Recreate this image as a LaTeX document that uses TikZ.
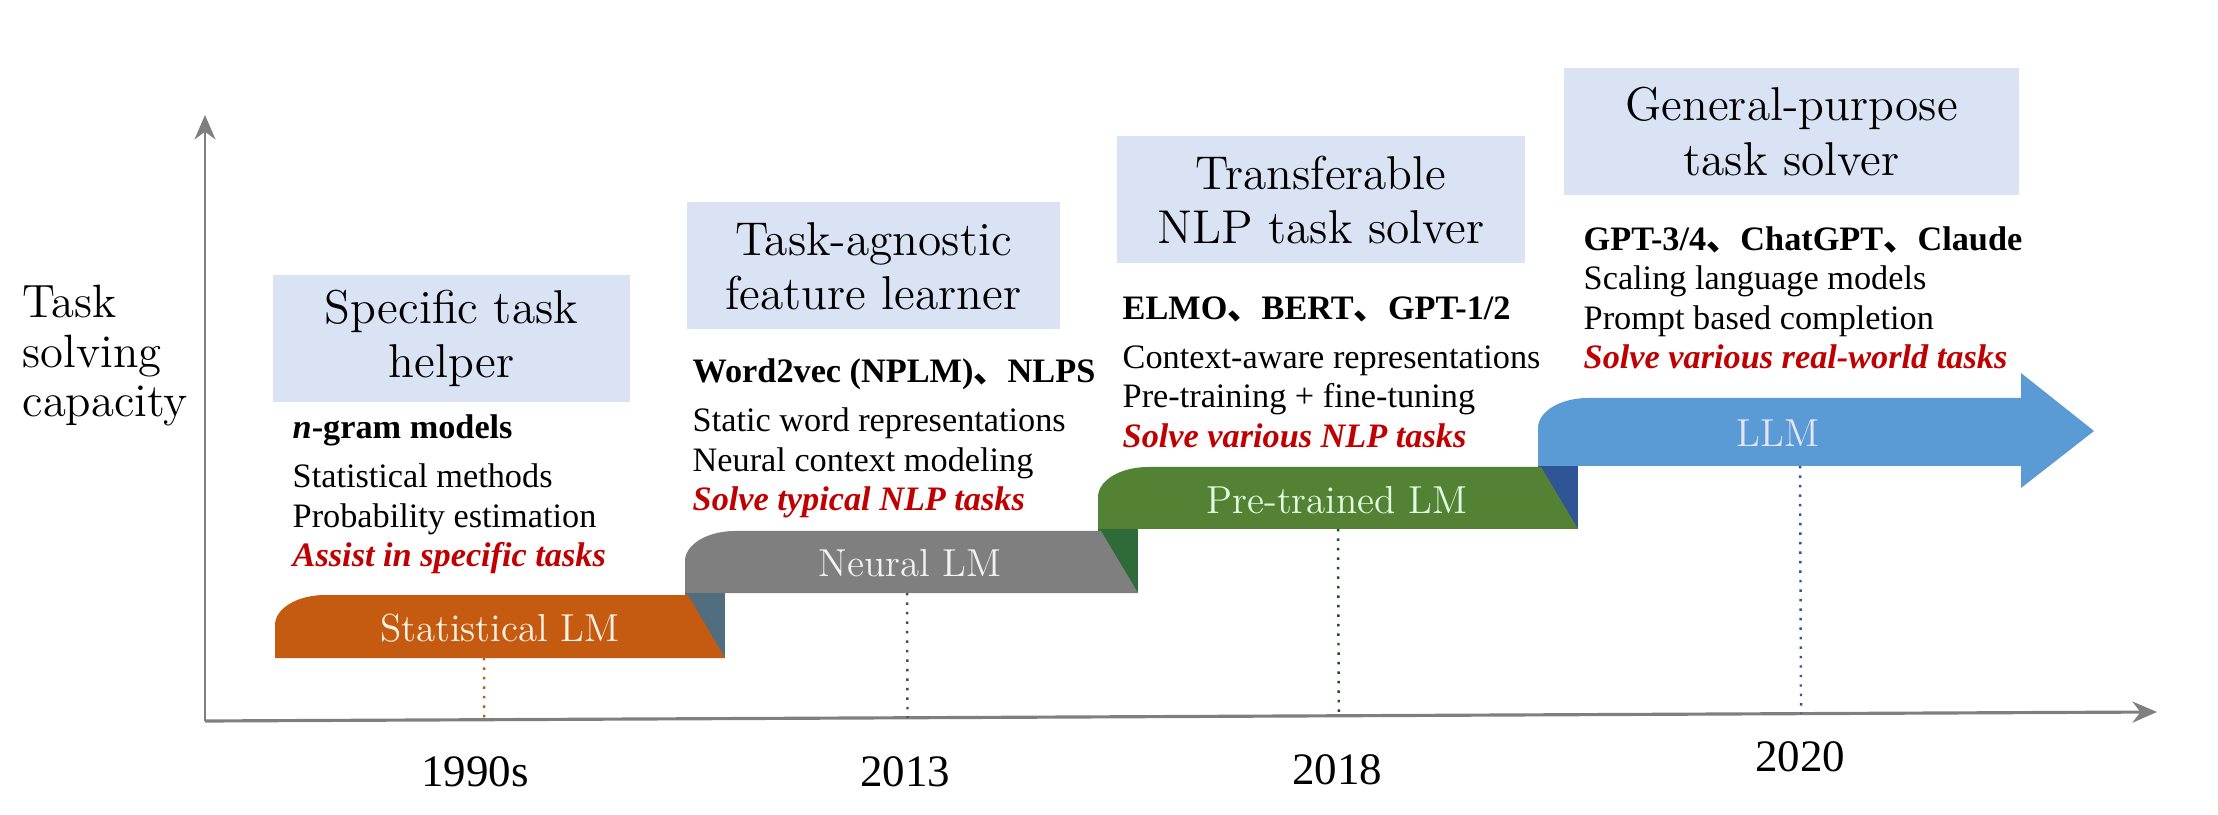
\documentclass[tikz,border=0pt]{standalone}
\usepackage{fontspec}
\newfontfamily\tnr{Liberation Serif}
\newfontfamily\cjk{Noto Sans CJK SC}
\usetikzlibrary{arrows.meta, calc}
\definecolor{hdrblue}{HTML}{DAE3F3}
\definecolor{statorange}{HTML}{C55A11}
\definecolor{neuralgrey}{HTML}{7F7F7F}
\definecolor{ptgreen}{HTML}{548235}
\definecolor{llmblue}{HTML}{5B9BD5}
\definecolor{risegrey}{HTML}{506E80}
\definecolor{risegreen}{HTML}{2E6B38}
\definecolor{riseblue}{HTML}{2F5597}
\definecolor{axisgrey}{HTML}{7F7F7F}
\definecolor{taskred}{HTML}{C00000}
\newcommand{\hdrfont}{\fontsize{13.5}{15.4}\selectfont}
\newcommand{\bodyfont}{\tnr\fontsize{9.75}{11.2}\selectfont}
\newcommand{\dun}{{\cjk 、}}
\newcommand{\redline}[1]{\textcolor{taskred}{\bfseries\itshape #1}}
% colour, left, right, top, bottom
\newcommand{\stagebar}[5]{\fill[#1] (#2,#5) -- (#2,#4-0.3) arc[start angle=180, end angle=90, x radius=0.5, y radius=0.3] -- (#3-0.37,#4) -- (#3,#5) -- cycle;}
\tikzset{
  hdr/.style={fill=hdrblue, inner sep=0pt, align=center, font=\hdrfont, minimum height=1.27cm},
  blk/.style={anchor=north west, inner sep=0pt, align=left, font=\bodyfont},
  barlabel/.style={font=\fontsize{11.1}{13}\selectfont, text=#1},
  year/.style={font=\tnr\fontsize{12.8}{14}\selectfont},
  tick/.style={draw=#1, dotted, line width=0.7pt},
  axis/.style={draw=axisgrey, line width=#1, -{Stealth[length=7pt, width=6pt]}}
}

\begin{document}
\begin{tikzpicture}
\useasboundingbox (0,0) rectangle (22.18,8.14);
% axes
\coordinate (o) at (2.05,0.93);
\coordinate (xend) at (21.57,1.02);
\coordinate (yend) at (2.05,6.99);
\draw[axis=0.9pt] (o) -- (xend);
\draw[axis=0.6pt] (o) -- (yend);
\node[anchor=north west, inner sep=0pt, align=left, font=\fontsize{13.3}{14.2}\selectfont] (ylab) at (0.22,5.30) {Task\\ solving\\ capacity};
% risers
\fill[risegrey] (6.85,1.56) rectangle (7.25,2.21);
\fill[risegreen] (10.98,2.21) rectangle (11.38,2.85);
\fill[riseblue] (15.38,2.85) rectangle (15.78,3.48);
% bars
\stagebar{statorange}{2.75}{7.25}{2.19}{1.56}
\stagebar{neuralgrey}{6.85}{11.38}{2.83}{2.21}
\stagebar{ptgreen}{10.98}{15.78}{3.47}{2.85}
\fill[llmblue] (15.38,3.48) -- (15.38,3.86) arc[start angle=180, end angle=90, x radius=0.5, y radius=0.3] -- (20.21,4.16) -- (20.21,4.41) -- (20.94,3.83) -- (20.21,3.26) -- (20.21,3.48) -- cycle;
\node[barlabel=white!90!orange] (stat) at (5.00,1.86) {Statistical LM};
\node[barlabel=white!95!black] (neural) at (9.10,2.51) {Neural LM};
\node[barlabel=white!88!green] (pretrained) at (13.37,3.14) {Pre-trained LM};
\node[barlabel=white!90!blue] (llm) at (17.78,3.81) {LLM};
% year ticks
\coordinate (t1) at (4.84,1.56);
\coordinate (t2) at (9.07,2.21);
\coordinate (t3) at (13.38,2.85);
\coordinate (t4) at (18.00,3.48);
\draw[tick=statorange] (t1) -- ($(o)!(t1)!(xend)$);
\draw[tick=neuralgrey!60!black] (t2) -- ($(o)!(t2)!(xend)$);
\draw[tick=risegreen!70!black] (t3) -- ($(o)!(t3)!(xend)$);
\draw[tick=riseblue] (t4) -- ($(o)!(t4)!(xend)$);
\node[year] (y1990) at (4.75,0.42) {1990s};
\node[year] (y2013) at (9.05,0.42) {2013};
\node[year] (y2018) at (13.37,0.44) {2018};
\node[year] (y2020) at (18.00,0.57) {2020};
% headers
\node[hdr, minimum width=3.57cm] (hdr1) at (4.515,4.755) {Specific task\\ helper};
\node[hdr, minimum width=3.73cm] (hdr2) at (8.735,5.48) {Task-agnostic\\ feature learner};
\node[hdr, minimum width=4.08cm] (hdr3) at (13.21,6.14) {Transferable\\ NLP task solver};
\node[hdr, minimum width=4.55cm] (hdr4) at (17.915,6.825) {General-purpose\\ task solver};
% descriptions
\node[blk] (blk1) at (2.92,4.00) {\textbf{\textit{n}-gram models}\\[2.8pt] Statistical methods\\ Probability estimation\\ \redline{Assist in specific tasks}};
\node[blk] (blk2) at (6.92,4.56) {\textbf{Word2vec (NPLM)\dun NLPS}\\[2.8pt] Static word representations\\ Neural context modeling\\ \redline{Solve typical NLP tasks}};
\node[blk] (blk3) at (11.22,5.18) {\textbf{ELMO\dun BERT\dun GPT-1/2}\\[2.8pt] Context-aware representations\\ Pre-training + fine-tuning\\ \redline{Solve various NLP tasks}};
\node[blk] (blk4) at (15.83,5.88) {\textbf{GPT-3/4\dun ChatGPT\dun Claude}\\ Scaling language models\\ Prompt based completion\\ \redline{Solve various real-world tasks}};
\end{tikzpicture}
\end{document}
